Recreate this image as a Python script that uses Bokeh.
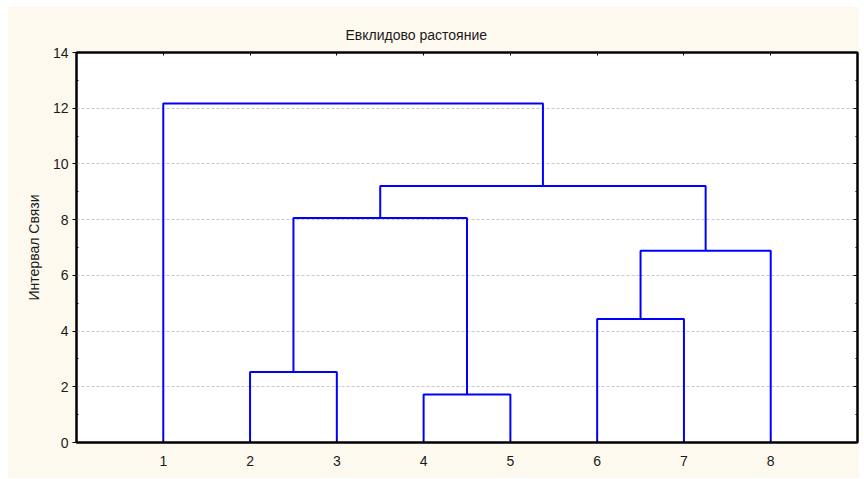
from bokeh.plotting import figure
from bokeh.models import FixedTicker, LinearAxis, Range1d
from bokeh.embed import file_html
from bokeh.resources import INLINE

# ---- data ----
title_text = "Евклидово растояние"
y_label = "Интервал Связи"
leaf_labels = ["1", "2", "3", "4", "5", "6", "7", "8"]
# linkage: (left node, right node, linkage distance); nodes 0..7 are leaves, 8+ are merged clusters
link_left = [3, 1, 5, 10, 9, 12, 0]
link_right = [4, 2, 6, 7, 8, 11, 13]
link_height = [1.72, 2.53, 4.43, 6.88, 8.06, 9.21, 12.17]
y_ticks = [0, 2, 4, 6, 8, 10, 12, 14]
y_minor = [1, 3, 5, 7, 9, 11, 13]

# ---- dendrogram geometry from linkage ----
n = len(leaf_labels)
node_x = {i: float(i + 1) for i in range(n)}
node_h = {i: 0.0 for i in range(n)}
xs, ys = [], []
for k, (a, b, h) in enumerate(zip(link_left, link_right, link_height)):
    xa, xb = node_x[a], node_x[b]
    xs.append([xa, xa, xb, xb])
    ys.append([node_h[a], h, h, node_h[b]])
    node_x[n + k] = (xa + xb) / 2.0
    node_h[n + k] = h

BG = "#FEF9EE"
FONT = "Liberation Sans"
TXT = "#1a1a1a"

p = figure(width=852, height=472, x_range=Range1d(0, 9), y_range=Range1d(0, 14),
           output_backend="svg", toolbar_location=None,
           min_border_left=69, min_border_top=46, min_border_right=2, min_border_bottom=36,
           background_fill_color="white", border_fill_color=BG)
p.margin = (6, 0, 0, 7)
p.outline_line_color = "black"
p.outline_line_width = 2

p.multi_line(xs=xs, ys=ys, line_color="#0000FF", line_width=2)

# title
p.title.text = title_text
p.title.align = "left"
p.title.offset = 269
p.title.text_font = FONT
p.title.text_font_size = "14px"
p.title.text_font_style = "normal"
p.title.text_color = TXT
p.title.standoff = 20

# axes styling
p.xaxis.ticker = FixedTicker(ticks=list(range(1, n + 1)))
p.xaxis.major_label_overrides = {i + 1: lab for i, lab in enumerate(leaf_labels)}
p.yaxis.ticker = FixedTicker(ticks=y_ticks, minor_ticks=y_minor)
p.yaxis.axis_label = y_label

for ax in (p.xaxis[0], p.yaxis[0]):
    ax.axis_line_color = "black"
    ax.axis_line_width = 2
    ax.major_tick_line_color = "black"
    ax.minor_tick_line_color = "black"
    ax.major_label_text_font = FONT
    ax.major_label_text_font_size = "14px"
    ax.major_label_text_color = TXT

p.yaxis.major_tick_out = 4
p.yaxis.major_tick_in = 0
p.yaxis.minor_tick_out = 0
p.yaxis.minor_tick_in = 2
p.yaxis.major_label_standoff = 4
p.yaxis.axis_label_text_font = FONT
p.yaxis.axis_label_text_font_size = "14px"
p.yaxis.axis_label_text_font_style = "normal"
p.yaxis.axis_label_text_color = TXT
p.yaxis.axis_label_standoff = 8

p.xaxis.major_tick_out = 0
p.xaxis.major_tick_in = 3
p.xaxis.minor_tick_line_color = None
p.xaxis.major_label_standoff = 13

# right and top axes (tick marks only, no labels)
right = LinearAxis(ticker=FixedTicker(ticks=y_ticks, minor_ticks=y_minor),
                   major_tick_in=4, major_tick_out=0, minor_tick_in=2, minor_tick_out=0,
                   axis_line_color="black", axis_line_width=2,
                   major_label_overrides={t: "" for t in y_ticks},
                   major_label_text_color=None, major_label_standoff=0)
top = LinearAxis(ticker=FixedTicker(ticks=list(range(1, n + 1))),
                 major_tick_in=3, major_tick_out=0, minor_tick_line_color=None,
                 axis_line_color="black", axis_line_width=2,
                 major_label_overrides={i + 1: "" for i in range(n)},
                 major_label_text_color=None, major_label_standoff=0)
p.add_layout(right, "right")
p.add_layout(top, "above")

# grid
p.xgrid.grid_line_color = None
p.ygrid.ticker = FixedTicker(ticks=y_ticks)
p.ygrid.grid_line_color = "#c8c8c8"
p.ygrid.grid_line_dash = "3 2"
p.ygrid.grid_line_width = 1

open("out.html", "w").write(file_html(p, INLINE))
